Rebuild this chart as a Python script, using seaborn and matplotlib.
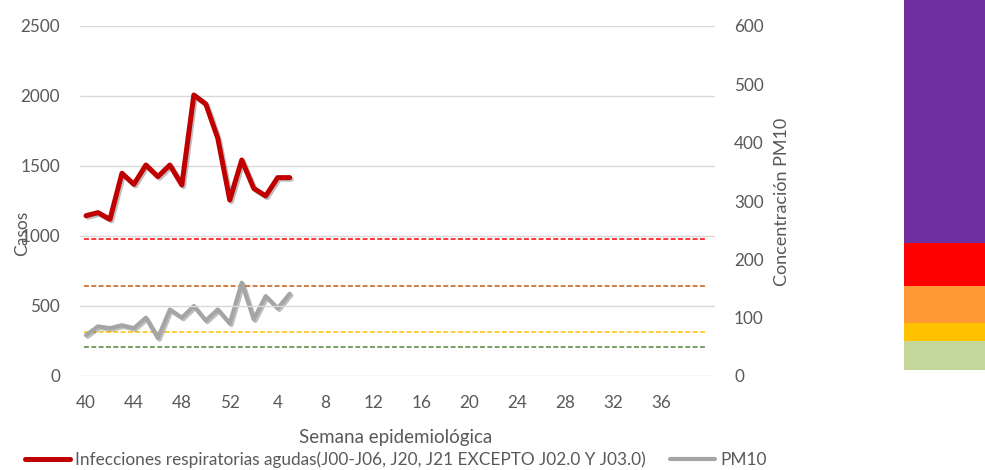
import matplotlib
matplotlib.use("Agg")
import matplotlib.pyplot as plt
import matplotlib.patheffects as pe
from matplotlib.lines import Line2D
import seaborn as sns
import pandas as pd

# ---------------- data ----------------
weeks = list(range(40, 53)) + list(range(1, 40))
ira_cases = [1145, 1167, 1119, 1448, 1369, 1507, 1424, 1507, 1364, 2007,
             1943, 1698, 1257, 1543, 1340, 1286, 1417, 1417]
pm10 = [70, 85, 82, 87, 82, 100, 65, 114, 100, 120,
        95, 114, 90, 160, 97, 137, 116, 141]
thresholds = [50, 75, 155, 235]
threshold_colors = ["#548235", "#FFC000", "#C55A11", "#FF0000"]
band_colors = ["#C4D79B", "#FFC000", "#FF9933", "#FF0000", "#7030A0"]
band_edges = [0, 29, 47, 84, 127, 370]
label_ira = "Infecciones respiratorias agudas(J00-J06, J20, J21 EXCEPTO J02.0 Y J03.0)"
label_pm = "PM10"

# ---------------- style ----------------
sns.set_theme(style="white")
plt.rcParams["font.family"] = ["Lato", "DejaVu Sans"]
TXT = "#595959"
GRID = "#D9D9D9"

W, H = 985, 470
fig = plt.figure(figsize=(W / 100, H / 100), dpi=100)
fig.patch.set_facecolor("white")

ax = fig.add_axes([80 / W, 94 / H, 635 / W, 350 / H])
ax2 = ax.twinx()

df1 = pd.DataFrame({"x": range(len(ira_cases)), "y": ira_cases})
df2 = pd.DataFrame({"x": range(len(pm10)), "y": pm10})

shadow = [pe.SimpleLineShadow(offset=(1.2, -1.2), alpha=0.25, shadow_color="black"), pe.Normal()]

sns.lineplot(data=df1, x="x", y="y", ax=ax, color="#C00000", lw=3.6,
             path_effects=shadow, legend=False, zorder=5)

n = len(weeks)
for t, c in zip(thresholds, threshold_colors):
    ax2.hlines(t, -0.15, n - 0.2, colors=c, linestyles=(0, (3.2, 1.6)), lw=1.1, zorder=2)
sns.lineplot(data=df2, x="x", y="y", ax=ax2, color="#A5A5A5", lw=3.0,
             path_effects=shadow, legend=False, zorder=4)

ax.set_xlim(-0.5, n + 0.5)
ax.set_ylim(0, 2500)
ax.set_yticks(range(0, 2501, 500))
ax2.set_ylim(0, 600)
ax2.set_yticks(range(0, 601, 100))

ax.set_xticks(range(0, n, 4))
ax.set_xticklabels([str(weeks[i]) for i in range(0, n, 4)])

for a in (ax, ax2):
    for s in a.spines.values():
        s.set_visible(False)
    a.tick_params(length=0, labelsize=12.3, colors=TXT)
    a.set_xlabel("")
    a.set_ylabel("")
ax.tick_params(axis="y", pad=14.4)
ax.tick_params(axis="x", pad=14.0)
ax2.tick_params(axis="y", pad=13.7)

ax.grid(axis="y", color=GRID, lw=1.0)
ax.set_axisbelow(True)
ax2.grid(False)
ax.set_zorder(ax2.get_zorder() + 1)
ax.patch.set_visible(False)

fig.text(22 / W, 1 - 233 / H, "Casos", rotation=90, ha="center", va="center",
         fontsize=12.5, color=TXT)
fig.text(782 / W, 1 - 202 / H, "Concentración PM10", rotation=90, ha="center",
         va="center", fontsize=13, color=TXT)
fig.text(396 / W, 1 - 437 / H, "Semana epidemiológica", ha="center", va="center",
         fontsize=13.5, color=TXT)

handles = [Line2D([], [], color="#C00000", lw=3.6), Line2D([], [], color="#A5A5A5", lw=3.0)]
fig.legend(handles, [label_ira, label_pm], loc="center", ncol=2, frameon=False,
           bbox_to_anchor=(396 / W, 1 - 460 / H), fontsize=12.4, labelcolor=TXT,
           handlelength=2.6, handletextpad=0.3, columnspacing=1.4)

# colour scale image on the right
axb = fig.add_axes([904 / W, (H - 370) / H, 81 / W, 370 / H])
for lo, hi, c in zip(band_edges[:-1], band_edges[1:], band_colors):
    axb.axhspan(lo, hi, color=c, lw=0)
axb.set_ylim(0, 370)
axb.set_xlim(0, 1)
axb.axis("off")

fig.savefig("out.png", dpi=100)
